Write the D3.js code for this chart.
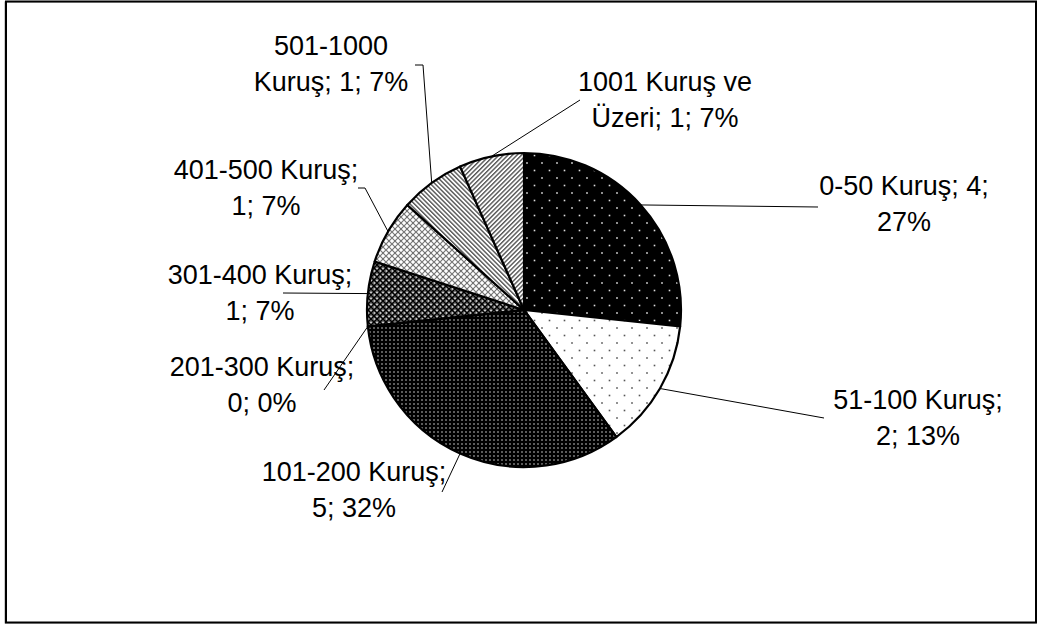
<!DOCTYPE html>
<html><head><meta charset="utf-8">
<script src="https://cdn.jsdelivr.net/npm/d3@7"></script>
<style>
html,body{margin:0;padding:0;background:#fff;}
svg{display:block;}
text{font-family:"Liberation Sans",Arial,sans-serif;}
</style></head>
<body>
<svg id="chart" width="1039" height="625"></svg>
<script>
// ---- data ----
const categories = ["0-50 Kuruş","51-100 Kuruş","101-200 Kuruş","201-300 Kuruş","301-400 Kuruş","401-500 Kuruş","501-1000 Kuruş","1001 Kuruş ve Üzeri"];
const values = [4, 2, 5, 0, 1, 1, 1, 1];
const percents = ["27%","13%","32%","0%","7%","7%","7%","7%"];
const labelLines = [
  ["0-50 Kuruş; 4;", "27%"],
  ["51-100 Kuruş;", "2; 13%"],
  ["101-200 Kuruş;", "5; 32%"],
  ["201-300 Kuruş;", "0; 0%"],
  ["301-400 Kuruş;", "1; 7%"],
  ["401-500 Kuruş;", "1; 7%"],
  ["501-1000", "Kuruş; 1; 7%"],
  ["1001 Kuruş ve", "Üzeri; 1; 7%"]
];

// ---- layout (positions of label blocks and leader ends) ----
const labelLayout = [
  {x: 904, y: 204, end: [818, 207]},
  {x: 918, y: 418, end: [824, 418]},
  {x: 354, y: 490, end: [442, 492]},
  {x: 262, y: 385, end: [324, 390]},
  {x: 260, y: 293, end: [283, 293]},
  {x: 266, y: 188, end: [358, 188], elbow: [365, 188]},
  {x: 331, y: 64,  end: [415, 65],  elbow: [423, 65]},
  {x: 665, y: 100, end: [580, 100]}
];

const W = 1039, H = 625;
const cx = 524, cy = 310, R = 157;
const fontSize = 27, lineGap = 36;

const svg = d3.select("#chart");
const defs = svg.append("defs");

// patterns
function pat(id, w, h, bg, draw, transform) {
  const p = defs.append("pattern").attr("id", id).attr("patternUnits", "userSpaceOnUse")
    .attr("width", w).attr("height", h);
  if (transform) p.attr("patternTransform", transform);
  p.append("rect").attr("width", w).attr("height", h).attr("fill", bg);
  draw(p);
}
pat("p0", 15, 15, "#000", p => {
  [[3,3],[10.5,10.5]].forEach(d => p.append("rect").attr("x", d[0]-0.8).attr("y", d[1]-0.8).attr("width",1.6).attr("height",1.6).attr("fill","#ddd"));
});
pat("p1", 15, 15, "#fff", p => {
  [[3,3],[10.5,10.5]].forEach(d => p.append("rect").attr("x", d[0]-0.8).attr("y", d[1]-0.8).attr("width",1.6).attr("height",1.6).attr("fill","#555"));
});
pat("p2", 8, 8, "#000", p => {
  [[2,2],[6,6],[6,2],[2,6]].forEach(d => p.append("rect").attr("x", d[0]-0.7).attr("y", d[1]-0.7).attr("width",1.4).attr("height",1.4).attr("fill","#bbb"));
});
pat("p3", 6, 6, "#fff", p => {});
pat("p4", 6, 6, "#777", p => {
  p.append("path").attr("d","M0,0L6,6M6,0L0,6").attr("stroke","#000").attr("stroke-width",1.4);
  p.append("rect").attr("x",2.4).attr("y",0).attr("width",1.2).attr("height",1.2).attr("fill","#fff");
  p.append("rect").attr("x",0).attr("y",2.4).attr("width",1.2).attr("height",1.2).attr("fill","#eee");
});
pat("p5", 6, 6, "#fff", p => {
  p.append("path").attr("d","M0,0L6,6M6,0L0,6").attr("stroke","#777").attr("stroke-width",1.2);
  p.append("rect").attr("x",2.5).attr("y",2.5).attr("width",1).attr("height",1).attr("fill","#555");
});
pat("p6", 3.2, 3.2, "#fff", p => {
  p.append("rect").attr("x",0).attr("y",0).attr("width",1.4).attr("height",3.2).attr("fill","#555");
}, "rotate(-45)");
pat("p7", 3.2, 3.2, "#fff", p => {
  p.append("rect").attr("x",0).attr("y",0).attr("width",1.4).attr("height",3.2).attr("fill","#555");
}, "rotate(45)");

// frame
svg.append("rect").attr("x", 5).attr("y", 2).attr("width", W - 8).attr("height", H - 4)
  .attr("fill", "none").attr("stroke", "#999").attr("stroke-width", 1);
svg.append("rect").attr("x", 6).attr("y", 1.5).attr("width", W - 9).attr("height", H - 4)
  .attr("fill", "none").attr("stroke", "#000").attr("stroke-width", 2);

const pie = d3.pie().sort(null).value(d => d.v).startAngle(0).endAngle(2 * Math.PI);
const data = categories.map((c, i) => ({c, v: values[i], i}));
const arcs = pie(data);
const arc = d3.arc().innerRadius(0).outerRadius(R);

const g = svg.append("g").attr("transform", `translate(${cx},${cy})`);
g.selectAll("path.slice").data(arcs).join("path").attr("class", "slice")
  .attr("d", arc)
  .attr("fill", d => `url(#p${d.data.i})`)
  .attr("stroke", "#000").attr("stroke-width", 2.2).attr("stroke-linejoin", "round");

// leader lines
const outer = d3.arc().innerRadius(R).outerRadius(R);
arcs.forEach((a, i) => {
  const L = labelLayout[i];
  const c = outer.centroid(a);
  const p0 = [cx + c[0], cy + c[1]];
  const pts = [p0];
  if (L.elbow) pts.push(L.elbow);
  pts.push(L.end);
  svg.append("path").attr("d", d3.line()(pts)).attr("fill", "none")
    .attr("stroke", "#000").attr("stroke-width", 1);
});

// labels
labelLines.forEach((lines, i) => {
  const L = labelLayout[i];
  const t = svg.append("text").attr("text-anchor", "middle").attr("font-size", fontSize).attr("fill", "#000");
  const n = lines.length;
  lines.forEach((s, k) => {
    const yc = L.y + (k - (n - 1) / 2) * lineGap;
    t.append("tspan").attr("x", L.x).attr("y", yc + fontSize * 0.35).text(s);
  });
});
</script>
</body></html>
